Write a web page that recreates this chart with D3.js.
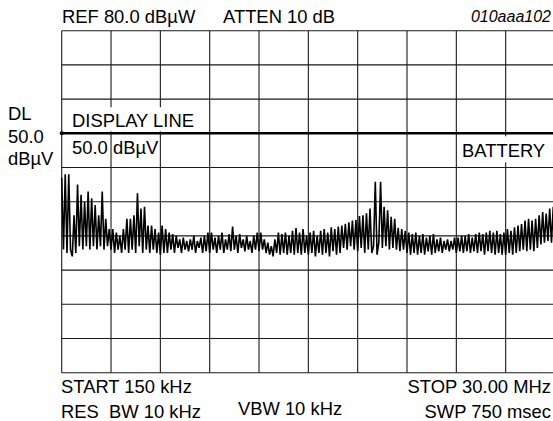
<!DOCTYPE html>
<html><head><meta charset="utf-8">
<script src="https://cdn.jsdelivr.net/npm/d3@7"></script>
<style>body{margin:0;background:#fff} text{font-family:"Liberation Sans",Arial,Helvetica,sans-serif;fill:#000}</style>
</head><body><svg id="c" width="553" height="421"></svg>
<script>
// ---- data ----
const startMHz = 0.15, stopMHz = 30.0;
const refLevel = 80, displayLineLevel = 50;
const yGridDb = [-20, -10, 0, 10, 20, 30, 40, 50, 60, 70, 80];
const xGridMHz = [0.15, 3.135, 6.12, 9.105, 12.09, 15.075, 18.06, 21.045, 24.03, 27.015, 30.0];
// trace level (dBµV) per sweep point, 281 points from START to STOP
const level = [
 37,16,38,15,38,16,14,26,15,35,17,32,16,30,17,33,16,31,17,29,16,26,17,33,16,25,17,22,
 16,22,15,21,16,20,15,22,16,25,15,25,16,26,15,32.5,17,28,15,28.5,16,23,15,23,16,22,15,21,
 14.5,23,15,22,15,21,16,20.5,15,20,16.5,19,15,19.5,16,18.5,15.5,19,16,20,15,18.5,16.5,19.5,15,20,15.5,21,
 15,21,16,19.5,15,20,16,21,15,19,16,20.5,15.5,22.7,16,20,15,20.5,16.5,19,15.5,20,16,18.5,15,20,16,21,
 15.5,21,16,19,15,18,14.5,17,14,19,15,21,14.5,20.5,15,21,14.5,20,15,21.5,14.5,22.3,15,21,14.5,22,15,20,
 14.5,21,15,21.5,14,20,15,21.5,14.5,22,15,21,14,22.5,15.5,22,14.5,22.7,15,23,16.5,23.5,16,24,17,24.5,16,24.6,
 15.5,25.8,16.5,26,15,26.6,16,28,15,17,35.8,14.5,18,35.8,16.5,28.5,17,27.5,16,25.6,16.5,25,16,22.4,15.5,22,16,21.5,
 15,21,14.5,20.5,15,21,14.5,20,15,20.5,14.5,19.5,15.5,20,14.5,20.5,15,19,15.5,19.5,15,18.5,16,19,15.5,18.5,16,19.5,
 15,19.5,15.5,20,15,20,15.5,20.5,15,19.5,15.5,20.5,15,21,15.5,20.5,14.5,21,15.5,21.5,15,21,14.5,21.5,15,20.5,14.5,21,
 14.5,22,15,21.5,14.5,22.5,15,23,15.5,23.5,16,24.5,15.5,25,16,24.5,15.5,25,16.5,26,17.5,27,18,26.5,18.5,28,18,28.5,19
];
const topLabels = ["REF 80.0 dBµW", "ATTEN 10 dB"];
const figId = "010aaa102";
const dlLabels = ["DL", "50.0", "dBµV"];
const bottomLabels = ["START 150 kHz", "STOP 30.00 MHz", "RES  BW 10 kHz", "VBW 10 kHz", "SWP 750 msec"];

// ---- drawing ----
const svg = d3.select("#c");
const x = d3.scaleLinear().domain([startMHz, stopMHz]).range([61.7, 555]);
const y = d3.scaleLinear().domain([refLevel - 100, refLevel]).range([372.7, 30.7]);
const step = (stopMHz - startMHz) / (level.length - 1);
const pts = level.map((v, i) => [startMHz + i * step, v]);

const grid = svg.append("g").attr("stroke", "#1a1a1a").attr("stroke-width", 1.1).attr("fill", "none");
grid.selectAll("line.h").data(yGridDb).join("line")
  .attr("x1", x(startMHz)).attr("x2", x(stopMHz)).attr("y1", d => y(d)).attr("y2", d => y(d));
grid.selectAll("line.v").data(xGridMHz).join("line")
  .attr("x1", d => x(d)).attr("x2", d => x(d)).attr("y1", y(refLevel)).attr("y2", y(refLevel - 100));

svg.append("path").datum(pts)
  .attr("fill", "none").attr("stroke", "#000").attr("stroke-width", 1.6).attr("stroke-linejoin", "miter")
  .attr("d", d3.line().x(d => x(d[0])).y(d => y(d[1])));

// label boxes
svg.append("rect").attr("x", x(startMHz) + 3).attr("y", y(displayLineLevel) - 26).attr("width", 141).attr("height", 24).attr("fill", "#fff");
svg.append("rect").attr("x", 459).attr("y", y(displayLineLevel) + 3).attr("width", 92).attr("height", 26).attr("fill", "#fff");

// display line
svg.append("line").attr("x1", x(startMHz)).attr("x2", 553).attr("y1", y(displayLineLevel)).attr("y2", y(displayLineLevel))
  .attr("stroke", "#000").attr("stroke-width", 2.6);
svg.append("circle").attr("cx", x(startMHz)).attr("cy", y(displayLineLevel)).attr("r", 2).attr("fill", "#000");

const fs = 18.4;
function txt(s, tx, ty, anchor, size, style) {
  svg.append("text").attr("x", tx).attr("y", ty).attr("text-anchor", anchor || "start")
    .attr("font-size", size || fs).attr("font-style", style || "normal").text(s);
}
txt(topLabels[0], 62, 23);
txt(topLabels[1], 223, 23);
txt(figId, 551, 22, "end", 16, "italic");
txt(dlLabels[0], 8, 120);
txt(dlLabels[1], 8, 143);
txt(dlLabels[2], 8, 165);
txt("DISPLAY LINE", 72, 127);
txt("50.0 dBµV", 72, 154);
txt("BATTERY", 462, 157);
txt(bottomLabels[0], 61, 393);
txt(bottomLabels[1], 551, 393, "end");
svg.append("text").attr("x", 61).attr("y", 418).attr("font-size", fs).attr("xml:space", "preserve").style("white-space", "pre").text(bottomLabels[2]);
txt(bottomLabels[3], 290, 415, "middle");
txt(bottomLabels[4], 551, 418, "end");
</script>
</body></html>
